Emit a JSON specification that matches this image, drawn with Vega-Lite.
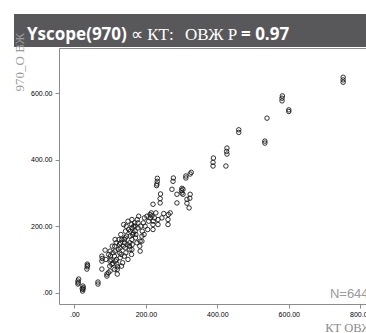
{
  "$schema": "https://vega.github.io/schema/vega-lite/v6.json",
  "background": "white",
  "padding": {"left": 13, "top": 14, "right": 0, "bottom": 0},
  "spacing": -15,
  "config": {"view": {"stroke": null}},
  "vconcat": [
    {
      "width": 352,
      "height": 33,
      "view": {"fill": "#58585a", "stroke": null},
      "layer": [
        {
          "data": {"values": [{"t": "Yscope(970)"}]},
          "mark": {"type": "text", "align": "left", "baseline": "alphabetic", "dx": -163, "dy": 9.5, "font": "Open Sans", "fontWeight": "bold", "fontSize": 17, "color": "white"},
          "encoding": {"text": {"field": "t"}}
        },
        {
          "data": {"values": [{"t": "∝ КТ:"}]},
          "mark": {"type": "text", "align": "left", "baseline": "alphabetic", "dx": -59, "dy": 9.5, "font": "Liberation Serif", "fontWeight": "normal", "fontSize": 17, "color": "white"},
          "encoding": {"text": {"field": "t"}}
        },
        {
          "data": {"values": [{"t": "ОВЖ Р"}]},
          "mark": {"type": "text", "align": "left", "baseline": "alphabetic", "dx": -5, "dy": 9.5, "font": "Liberation Serif", "fontWeight": "normal", "fontSize": 17, "color": "white"},
          "encoding": {"text": {"field": "t"}}
        },
        {
          "data": {"values": [{"t": "= 0.97"}]},
          "mark": {"type": "text", "align": "left", "baseline": "alphabetic", "dx": 51, "dy": 9.5, "font": "Open Sans", "fontWeight": "bold", "fontSize": 17, "color": "white"},
          "encoding": {"text": {"field": "t"}}
        }
      ]
    },
    {
      "width": 352,
      "height": 256,
      "data": {"values": [
        {"kt": 10, "v": 26}, {"kt": 10, "v": 35}, {"kt": 12, "v": 41}, {"kt": 11, "v": 30},
        {"kt": 23, "v": 5}, {"kt": 24, "v": 10}, {"kt": 25, "v": 15}, {"kt": 24, "v": 20}, {"kt": 22, "v": 12},
        {"kt": 35, "v": 71}, {"kt": 36, "v": 78}, {"kt": 36, "v": 86}, {"kt": 37, "v": 82},
        {"kt": 66, "v": 26}, {"kt": 66, "v": 32},
        {"kt": 77, "v": 71},
        {"kt": 91, "v": 50}, {"kt": 91, "v": 56},
        {"kt": 86, "v": 128},
        {"kt": 77, "v": 95}, {"kt": 78, "v": 103}, {"kt": 77, "v": 110},
        {"kt": 100, "v": 65}, {"kt": 99, "v": 80}, {"kt": 100, "v": 95}, {"kt": 101, "v": 110}, {"kt": 100, "v": 125}, {"kt": 102, "v": 100},
        {"kt": 114, "v": 125}, {"kt": 113, "v": 140}, {"kt": 114, "v": 160}, {"kt": 113, "v": 70}, {"kt": 115, "v": 95}, {"kt": 112, "v": 110},
        {"kt": 120, "v": 56}, {"kt": 120, "v": 70}, {"kt": 119, "v": 86}, {"kt": 121, "v": 78},
        {"kt": 128, "v": 105}, {"kt": 127, "v": 120}, {"kt": 128, "v": 135}, {"kt": 129, "v": 150}, {"kt": 126, "v": 145},
        {"kt": 142, "v": 135}, {"kt": 141, "v": 150}, {"kt": 142, "v": 165}, {"kt": 143, "v": 185}, {"kt": 140, "v": 160}, {"kt": 144, "v": 120},
        {"kt": 155, "v": 130}, {"kt": 155, "v": 150}, {"kt": 156, "v": 170}, {"kt": 154, "v": 140},
        {"kt": 161, "v": 195}, {"kt": 160, "v": 205}, {"kt": 161, "v": 220},
        {"kt": 160, "v": 115}, {"kt": 161, "v": 130}, {"kt": 162, "v": 145}, {"kt": 161, "v": 160},
        {"kt": 170, "v": 185}, {"kt": 170, "v": 200}, {"kt": 169, "v": 210}, {"kt": 171, "v": 165},
        {"kt": 178, "v": 195}, {"kt": 178, "v": 210},
        {"kt": 189, "v": 155}, {"kt": 189, "v": 170}, {"kt": 190, "v": 185},
        {"kt": 184, "v": 125}, {"kt": 183, "v": 140}, {"kt": 184, "v": 155},
        {"kt": 212, "v": 225}, {"kt": 212, "v": 235},
        {"kt": 220, "v": 190}, {"kt": 220, "v": 205}, {"kt": 221, "v": 215},
        {"kt": 234, "v": 205}, {"kt": 234, "v": 220},
        {"kt": 262, "v": 205}, {"kt": 262, "v": 220}, {"kt": 263, "v": 235},
        {"kt": 268, "v": 240},
        {"kt": 217, "v": 231}, {"kt": 195, "v": 175}, {"kt": 205, "v": 190}, {"kt": 150, "v": 100}, {"kt": 135, "v": 90},
        {"kt": 130, "v": 175}, {"kt": 108, "v": 88}, {"kt": 95, "v": 60}, {"kt": 145, "v": 200}, {"kt": 165, "v": 180},
        {"kt": 198, "v": 200}, {"kt": 175, "v": 150},
        {"kt": 105, "v": 85}, {"kt": 108, "v": 120}, {"kt": 118, "v": 100}, {"kt": 123, "v": 130}, {"kt": 131, "v": 115},
        {"kt": 133, "v": 160}, {"kt": 137, "v": 140}, {"kt": 146, "v": 170}, {"kt": 148, "v": 145}, {"kt": 152, "v": 190},
        {"kt": 157, "v": 185}, {"kt": 163, "v": 175}, {"kt": 166, "v": 200}, {"kt": 172, "v": 175}, {"kt": 176, "v": 220},
        {"kt": 180, "v": 230}, {"kt": 186, "v": 200}, {"kt": 193, "v": 210}, {"kt": 196, "v": 225}, {"kt": 203, "v": 230},
        {"kt": 208, "v": 215}, {"kt": 215, "v": 240}, {"kt": 224, "v": 225}, {"kt": 228, "v": 240}, {"kt": 245, "v": 225},
        {"kt": 250, "v": 238}, {"kt": 117, "v": 150}, {"kt": 125, "v": 160}, {"kt": 138, "v": 205}, {"kt": 150, "v": 215},
        {"kt": 106, "v": 140}, {"kt": 96, "v": 115}, {"kt": 88, "v": 100}, {"kt": 132, "v": 80}, {"kt": 140, "v": 110},
        {"kt": 220, "v": 266},
        {"kt": 231, "v": 327}, {"kt": 232, "v": 335}, {"kt": 232, "v": 344}, {"kt": 230, "v": 322},
        {"kt": 240, "v": 270}, {"kt": 240, "v": 283}, {"kt": 241, "v": 297},
        {"kt": 276, "v": 335}, {"kt": 277, "v": 345},
        {"kt": 273, "v": 311},
        {"kt": 287, "v": 296}, {"kt": 287, "v": 270},
        {"kt": 301, "v": 300}, {"kt": 301, "v": 314}, {"kt": 300, "v": 307},
        {"kt": 315, "v": 269}, {"kt": 315, "v": 281},
        {"kt": 323, "v": 284}, {"kt": 324, "v": 296},
        {"kt": 321, "v": 255},
        {"kt": 312, "v": 351}, {"kt": 312, "v": 345},
        {"kt": 324, "v": 357}, {"kt": 327, "v": 362},
        {"kt": 304, "v": 296}, {"kt": 304, "v": 311},
        {"kt": 388, "v": 381}, {"kt": 388, "v": 392}, {"kt": 389, "v": 405},
        {"kt": 427, "v": 417}, {"kt": 427, "v": 435}, {"kt": 426, "v": 425},
        {"kt": 424, "v": 381},
        {"kt": 460, "v": 482}, {"kt": 460, "v": 490},
        {"kt": 533, "v": 450}, {"kt": 533, "v": 456},
        {"kt": 539, "v": 525},
        {"kt": 581, "v": 577}, {"kt": 581, "v": 585}, {"kt": 582, "v": 592},
        {"kt": 600, "v": 545}, {"kt": 600, "v": 550},
        {"kt": 752, "v": 633}, {"kt": 752, "v": 640}, {"kt": 752, "v": 648}
      ]},
      "resolve": {"axis": {"x": "independent"}},
      "layer": [
        {
          "mark": {"type": "point", "shape": "circle", "filled": false, "size": 20, "stroke": "#1a1a1a", "strokeWidth": 0.9, "opacity": 1},
          "encoding": {
            "x": {
              "field": "kt", "type": "quantitative",
              "scale": {"domain": [-43, 816], "range": [45, 352], "nice": false, "zero": false},
              "axis": {
                "values": [0, 200, 400, 600, 800],
                "labelExpr": "datum.value == 0 ? '.00' : format(datum.value, '.2f')",
                "grid": false,
                "domainColor": "#8c8c8c",
                "tickColor": "#8c8c8c",
                "tickSize": 4,
                "labelFont": "Liberation Sans",
                "labelFontSize": 7,
                "labelColor": "#000000",
                "labelPadding": 2,
                "labelFlush": false,
                "labelOverlap": false,
                "title": "КТ ОВЖ",
                "titleFont": "Liberation Serif",
                "titleFontSize": 12.5,
                "titleFontWeight": "normal",
                "titleColor": "#8a8a8a",
                "titleAnchor": "end",
                "titleAlign": "right",
                "titleBaseline": "alphabetic",
                "titleX": 358,
                "titleY": 27
              }
            },
            "y": {
              "field": "v", "type": "quantitative",
              "scale": {"domain": [-34, 736], "nice": false, "zero": false},
              "axis": {
                "offset": -45,
                "values": [0, 200, 400, 600],
                "labelExpr": "datum.value == 0 ? '.00' : format(datum.value, '.2f')",
                "grid": false,
                "domainColor": "#8c8c8c",
                "tickColor": "#8c8c8c",
                "tickSize": 4,
                "labelFont": "Liberation Sans",
                "labelFontSize": 7,
                "labelColor": "#000000",
                "labelPadding": 3,
                "title": "970_О ВЖ",
                "titleFont": "Liberation Serif",
                "titleFontSize": 13,
                "titleFontWeight": "normal",
                "titleColor": "#9a9a9a",
                "titleAlign": "left",
                "titleBaseline": "middle",
                "titleAngle": -90,
                "titleX": -40,
                "titleY": 43
              }
            }
          }
        },
        {
          "data": {"values": [{"n": "N=644"}]},
          "mark": {"type": "text", "align": "left", "baseline": "alphabetic", "font": "Liberation Sans", "fontSize": 13, "color": "#9a9a9a"},
          "encoding": {
            "x": {
              "datum": 715, "type": "quantitative",
              "axis": {"orient": "top", "labels": false, "ticks": false, "grid": false, "title": null, "domain": true, "domainColor": "#8c8c8c", "minExtent": 0, "maxExtent": 0, "offset": 0}
            },
            "y": {"datum": -16, "type": "quantitative"},
            "text": {"field": "n"}
          }
        }
      ]
    }
  ]
}
